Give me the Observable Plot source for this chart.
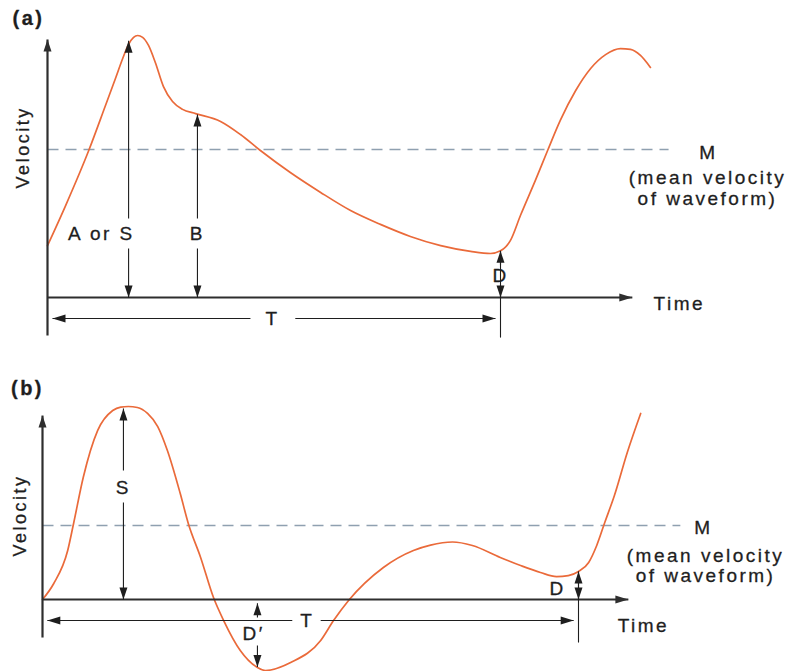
<!DOCTYPE html>
<html>
<head>
<meta charset="utf-8">
<script src="https://cdn.jsdelivr.net/npm/d3@7"></script>
<script src="https://cdn.jsdelivr.net/npm/@observablehq/plot@0.6"></script>
<style>
  html, body { margin: 0; padding: 0; background: #fff; }
  #chart svg { display: block; }
</style>
</head>
<body>
<div id="chart"></div>
<script>
// Time is measured in fractions of the period T; velocity in relative units (peak = 100).

// (a) Waveform with forward flow throughout the cycle
const timeA = [0, 0.040, 0.091, 0.128, 0.150, 0.166, 0.179, 0.190, 0.199, 0.210, 0.223, 0.238, 0.256, 0.276, 0.298, 0.327, 0.382, 0.426, 0.470, 0.536, 0.603, 0.669, 0.735, 0.801, 0.868, 0.934, 0.978, 1.000, 1.022, 1.044, 1.077, 1.104, 1.132, 1.166, 1.199, 1.232, 1.265, 1.287, 1.309, 1.331];
const velocityA = [19.8, 35.1, 56.1, 73.3, 83.6, 91.2, 96.6, 99.3, 100, 99.3, 96.2, 89.7, 80.5, 74.8, 71.8, 70.2, 67.2, 62.2, 56.1, 47.7, 40.1, 33.2, 27.9, 23.3, 19.8, 17.6, 16.8, 17.8, 21.8, 31.3, 44.7, 56.1, 67.6, 79.0, 87.4, 92.7, 95.0, 94.7, 92.4, 87.8];
const meanA = 56.5;

// (b) Waveform with flow reversal
const timeB = [0, 0.021, 0.047, 0.058, 0.076, 0.103, 0.131, 0.146, 0.160, 0.177, 0.196, 0.215, 0.233, 0.257, 0.272, 0.295, 0.319, 0.338, 0.369, 0.401, 0.416, 0.463, 0.519, 0.543, 0.571, 0.636, 0.692, 0.724, 0.765, 0.802, 0.854, 0.892, 0.929, 0.959, 0.981, 1.000, 1.019, 1.034, 1.049, 1.067, 1.091, 1.116];
const velocityB = [0, 8.3, 25.4, 39.4, 63.2, 87.6, 97.9, 99.7, 100, 99.5, 96.4, 89.6, 77.2, 54.9, 39.4, 21.8, 1.0, -10.9, -26.4, -35.2, -36.8, -32.6, -21.2, -10.9, -0.5, 16.6, 25.4, 28.2, 29.8, 28.0, 21.8, 17.6, 14.0, 11.9, 12.4, 14.5, 19.2, 28.0, 39.9, 53.9, 76.2, 96.4];
const meanB = 38.3;

// Vertical dimension arrows: label, time, low/high ends, label break, label position
const dimLabelA = ["A or S", "B", "D"];
const dimTimeA = [0.179, 0.331, 1.0];
const dimLowA = [0, 0, 0];
const dimHighA = [98, 69.8, 17.8];
const dimBreakA = [[18.7, 30.2], [18.7, 30.2], [5, 12.2]];
const dimLabelPosA = [[0.119, 24.4], [0.331, 24.4], [1.0, 8.4]];

const dimLabelB = ["S", "D\u2032", "D"];
const dimTimeB = [0.151, 0.401, 1.0];
const dimLowB = [0, -35, 0];
const dimHighB = [99, -2, 14.5];
const dimBreakB = [[50.3, 66.8], [-23.8, -9.3], null];
const dimLabelPosB = [[0.151, 58], [0.394, -17.6], [0.961, 5.7]];

// Period arrow T: ends, level, label break, label position
const periodA = {from: 0.011, to: 0.989, v: -8, gap: [0.448, 0.547], label: 0.497};
const periodB = {from: 0.009, to: 0.991, v: -10.9, gap: [0.466, 0.519], label: 0.494};

const meanLabel = ["M", "(mean velocity", "of waveform)"];

// Filled arrowheads with the tip at the data point
const tri = (pts) => ({draw(ctx) { ctx.moveTo(0, 0); pts.forEach(([x, y]) => ctx.lineTo(x, y)); ctx.closePath(); }});
const headUp = tri([[4, 12], [-4, 12]]);
const headDown = tri([[4, -12], [-4, -12]]);
const headRight = tri([[-13, -4], [-13, 4]]);
const headLeft = tri([[13, -4], [13, 4]]);

const ORANGE = "#ea6a3a";
const AXIS = "#2e2e2e";
const INK = "#1e1e1e";
const DASH = "#8fa0b0";
const FONT = "'Liberation Sans', Arial, Helvetica, sans-serif";

function panel(cfg) {
  const pts = cfg.time.map((t, i) => ({t, v: cfg.velocity[i]}));

  // thin annotation segments and arrowheads
  const segs = [];
  const ups = [], downs = [], rights = [], lefts = [];
  cfg.dimLabel.forEach((_, i) => {
    const t = cfg.dimTime[i], lo = cfg.dimLow[i], hi = cfg.dimHigh[i], br = cfg.dimBreak[i];
    if (br) {
      segs.push({x1: t, y1: lo, x2: t, y2: br[0]});
      segs.push({x1: t, y1: br[1], x2: t, y2: hi});
    } else {
      segs.push({x1: t, y1: lo, x2: t, y2: hi});
    }
    ups.push({t, v: hi});
    downs.push({t, v: lo});
  });
  const p = cfg.period;
  segs.push({x1: p.from, y1: p.v, x2: p.gap[0], y2: p.v});
  segs.push({x1: p.gap[1], y1: p.v, x2: p.to, y2: p.v});
  lefts.push({t: p.from, v: p.v});
  rights.push({t: p.to, v: p.v});
  // period marker below the end of the cycle
  segs.push({x1: 1, y1: cfg.tickBottom, x2: 1, y2: cfg.dimHigh[cfg.dimHigh.length - 1]});

  // axes with arrows
  const axes = [
    {x1: 0, y1: cfg.axisBottom, x2: 0, y2: cfg.axisTop},
    {x1: 0, y1: 0, x2: cfg.axisEnd, y2: 0}
  ];
  const axisUp = [{t: 0, v: cfg.axisTop}];
  const axisRight = [{t: cfg.axisEnd, v: 0}];

  const dimText = cfg.dimLabel.map((s, i) => ({s, t: cfg.dimLabelPos[i][0], v: cfg.dimLabelPos[i][1]}));
  const meanText = meanLabel.map((s, i) => ({s, t: cfg.meanLabelPos[i][0], v: cfg.meanLabelPos[i][1]}));

  const text = {fill: INK, stroke: INK, strokeWidth: 0.3, fontSize: 19, fontFamily: FONT};

  return Plot.plot({
    width: 793,
    height: cfg.height,
    x: {domain: [0, 1], range: cfg.xRange, axis: null},
    y: {domain: [0, 100], range: cfg.yRange, axis: null},
    style: {background: "#fff", letterSpacing: "2.5px", fontFamily: FONT, overflow: "visible"},
    marks: [
      Plot.link([{x1: 0, y1: cfg.mean, x2: cfg.meanEnd, y2: cfg.mean}], {x1: "x1", y1: "y1", x2: "x2", y2: "y2", stroke: DASH, strokeWidth: 1.5, strokeDasharray: "11,7"}),
      Plot.line(pts, {x: "t", y: "v", curve: "monotone-x", stroke: ORANGE, strokeWidth: 1.7}),
      Plot.link(axes, {x1: "x1", y1: "y1", x2: "x2", y2: "y2", stroke: AXIS, strokeWidth: 2.2}),
      Plot.dot(axisUp, {x: "t", y: "v", symbol: headUp, r: 1, fill: AXIS, stroke: "none"}),
      Plot.dot(axisRight, {x: "t", y: "v", symbol: headRight, r: 1, fill: AXIS, stroke: "none"}),
      Plot.link(segs, {x1: "x1", y1: "y1", x2: "x2", y2: "y2", stroke: INK, strokeWidth: 1.1}),
      Plot.dot(ups, {x: "t", y: "v", symbol: headUp, r: 1, fill: INK, stroke: "none"}),
      Plot.dot(downs, {x: "t", y: "v", symbol: headDown, r: 1, fill: INK, stroke: "none"}),
      Plot.dot(rights, {x: "t", y: "v", symbol: headRight, r: 1, fill: INK, stroke: "none"}),
      Plot.dot(lefts, {x: "t", y: "v", symbol: headLeft, r: 1, fill: INK, stroke: "none"}),
      Plot.text(dimText, {x: "t", y: "v", text: "s", ...text}),
      Plot.text([{s: "T", t: p.label, v: p.v}], {x: "t", y: "v", text: "s", ...text}),
      Plot.text([{s: "Time", t: cfg.timeLabel[0], v: cfg.timeLabel[1]}], {x: "t", y: "v", text: "s", textAnchor: "start", ...text}),
      Plot.text(meanText, {x: "t", y: "v", text: "s", ...text}),
      Plot.text([{s: "Velocity", t: cfg.velLabel[0], v: cfg.velLabel[1]}], {x: "t", y: "v", text: "s", rotate: -90, ...text, fontSize: 18}),
      Plot.text([{s: cfg.tag, t: cfg.tagPos[0], v: cfg.tagPos[1]}], {x: "t", y: "v", text: "s", ...text, fontSize: 20, fontWeight: "bold"})
    ]
  });
}

const chartA = panel({
  height: 350, xRange: [47, 500], yRange: [297, 35],
  time: timeA, velocity: velocityA, mean: meanA, meanEnd: 1.371,
  dimLabel: dimLabelA, dimTime: dimTimeA, dimLow: dimLowA, dimHigh: dimHighA, dimBreak: dimBreakA, dimLabelPos: dimLabelPosA,
  period: periodA, tickBottom: -15.3,
  axisBottom: -14.5, axisTop: 98.5, axisEnd: 1.291,
  timeLabel: [1.338, -2.3],
  meanLabelPos: [[1.459, 55], [1.457, 45.8], [1.457, 37.8]],
  velLabel: [-0.053, 57.3],
  tag: "(a)", tagPos: [-0.042, 106.5]
});

const chartB = panel({
  height: 321, xRange: [42, 578], yRange: [249, 56],
  time: timeB, velocity: velocityB, mean: meanB, meanEnd: 1.190,
  dimLabel: dimLabelB, dimTime: dimTimeB, dimLow: dimLowB, dimHigh: dimHighB, dimBreak: dimBreakB, dimLabelPos: dimLabelPosB,
  period: periodB, tickBottom: -22.3,
  axisBottom: -19.7, axisTop: 95.3, axisEnd: 1.093,
  timeLabel: [1.073, -13.5],
  meanLabelPos: [[1.233, 37.3], [1.237, 22.8], [1.237, 12.4]],
  velLabel: [-0.041, 43.5],
  tag: "(b)", tagPos: [-0.028, 109.3]
});

const root = document.getElementById("chart");
root.append(chartA, chartB);
</script>
</body>
</html>
